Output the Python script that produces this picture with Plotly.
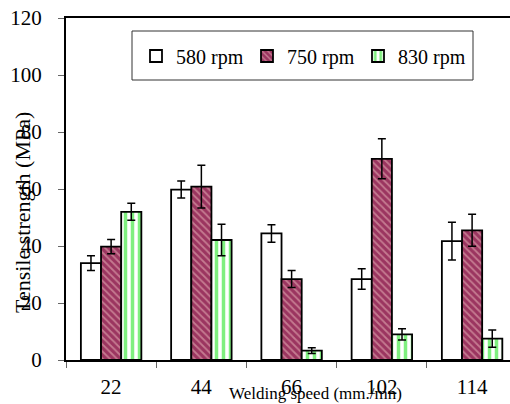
import plotly.graph_objects as go

speeds = ["22", "44", "66", "102", "114"]
s580 = [34.0, 59.8, 44.4, 28.4, 41.7]
e580 = [2.6, 3.0, 3.1, 3.6, 6.6]
s750 = [39.8, 60.8, 28.4, 70.6, 45.5]
e750 = [2.5, 7.5, 3.0, 7.0, 5.6]
s830 = [52.0, 42.1, 3.3, 9.0, 7.5]
e830 = [3.0, 5.5, 1.0, 2.0, 3.0]
y_ticks = [0, 20, 40, 60, 80, 100, 120]

FONT = "Liberation Serif, Times New Roman, serif"

fig = go.Figure()
err_style = dict(type="data", thickness=1.5, width=4, color="black")

fig.add_trace(go.Bar(
    x=speeds, y=s580, name="580 rpm",
    error_y=dict(array=e580, **err_style),
    marker=dict(color="white", line=dict(color="black", width=1.8)),
))
fig.add_trace(go.Bar(
    x=speeds, y=s750, name="750 rpm",
    error_y=dict(array=e750, **err_style),
    marker=dict(color="#9b3560", line=dict(color="black", width=1.8),
                pattern=dict(shape="\\", fgcolor="#eec0c0", bgcolor="#9b3560",
                             size=5, solidity=0.35)),
))
fig.add_trace(go.Bar(
    x=speeds, y=s830, name="830 rpm",
    error_y=dict(array=e830, **err_style),
    marker=dict(color="white", line=dict(color="black", width=1.8),
                pattern=dict(shape="|", fgcolor="#00e000", bgcolor="white",
                             size=7, solidity=0.5)),
))

PW, PH = 444, 342  # plot area in px

fig.update_layout(
    width=510, height=404,
    margin=dict(l=66, r=0, t=18, b=44),
    paper_bgcolor="white", plot_bgcolor="white",
    barmode="group", bargap=0.33, bargroupgap=0,
    font=dict(family=FONT, size=20, color="black"),
    showlegend=True,
    legend=dict(
        orientation="h", x=(136 - 66) / PW, y=(360 - 56) / PH,
        xanchor="left", yanchor="middle",
        borderwidth=0, bgcolor="rgba(0,0,0,0)",
        font=dict(family=FONT, size=20, color="black"),
        itemwidth=30, entrywidthmode="pixels", entrywidth=66,
    ),
    xaxis=dict(
        type="category", range=[-0.5, 4.42],
        showline=True, linecolor="black", linewidth=2, mirror=True,
        ticks="outside", tickson="boundaries", ticklen=6, tickcolor="#666666",
        tickwidth=1, showgrid=False, tickfont=dict(family=FONT, size=21),
        ticklabelstandoff=7,
    ),
    yaxis=dict(
        range=[0, 120], tickvals=y_ticks,
        showline=True, linecolor="black", linewidth=2,
        ticks="outside", ticklen=6, tickcolor="#666666", tickwidth=1,
        showgrid=False, zeroline=False, tickfont=dict(family=FONT, size=21),
        ticklabelstandoff=12,
    ),
    shapes=[
        dict(type="rect", xref="paper", yref="paper",
             x0=(132 - 66) / PW, x1=(473 - 66) / PW,
             y0=(360 - 80) / PH, y1=(360 - 31) / PH,
             line=dict(color="#333333", width=1), fillcolor="white", layer="below"),
    ],
    annotations=[
        dict(text="Welding speed (mm./mn)", xref="paper", yref="paper",
             x=(315 - 66) / PW, y=(360 - 393) / PH, xanchor="center", yanchor="middle",
             showarrow=False, font=dict(family=FONT, size=17)),
        dict(text="Tensile strength (MPa)", textangle=-90, xref="paper", yref="paper",
             x=(22 - 66) / PW, y=(360 - 213) / PH, xanchor="center", yanchor="middle",
             showarrow=False, font=dict(family=FONT, size=22)),
    ],
)

fig.write_html("out.html", config={"displayModeBar": False})

# remove the browser's default 8px body margin so the figure sits at the page origin
with open("out.html", "r", encoding="utf-8") as f:
    html = f.read()
html = html.replace("<body>", '<body style="margin:0;padding:0;overflow:hidden">', 1)
with open("out.html", "w", encoding="utf-8") as f:
    f.write(html)
